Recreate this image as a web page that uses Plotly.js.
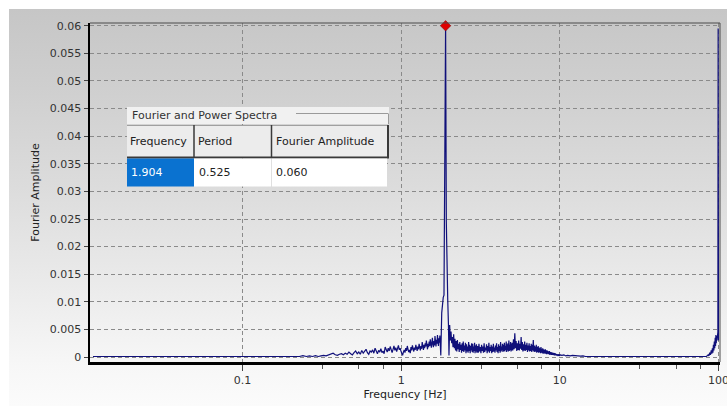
<!DOCTYPE html>
<html>
<head>
<meta charset="utf-8">
<script src="https://cdn.plot.ly/plotly-3.0.1.min.js"></script>
<style>
  html, body { margin: 0; padding: 0; background: #ffffff; }
  #wrap { position: relative; width: 727px; height: 406px; overflow: hidden; }
  #bg { position: absolute; left: 9px; top: 9px; width: 718px; height: 397px;
        background: linear-gradient(to bottom, #c6c6c6 0%, #cfcfcf 20%, #dcdcdc 45%, #ebebeb 70%, #f7f7f7 90%, #fbfbfb 100%); }
  #chart { position: absolute; left: 0; top: 0; width: 727px; height: 406px; }
</style>
</head>
<body>
<div id="wrap"><div id="bg"></div><div id="chart"></div></div>
<script>
// ---------------- data ----------------
const freqLow = [0.0114, 0.024, 0.048, 0.072, 0.096, 0.12, 0.144, 0.168, 0.192, 0.216,
  0.228, 0.24, 0.252, 0.264, 0.276, 0.288, 0.30, 0.312, 0.324, 0.336,
  0.348, 0.36, 0.372, 0.384, 0.396, 0.408, 0.42, 0.432, 0.444, 0.456,
  0.468, 0.48, 0.492, 0.504, 0.516, 0.528, 0.54, 0.552, 0.564, 0.576,
  0.588, 0.60, 0.612, 0.624, 0.636, 0.648, 0.66, 0.672, 0.684, 0.696,
  0.708, 0.72, 0.732, 0.744, 0.756, 0.768, 0.78, 0.792, 0.804, 0.816,
  0.828, 0.84, 0.852, 0.864, 0.876, 0.888, 0.90, 0.912, 0.924, 0.936,
  0.948, 0.96, 0.972, 0.984, 0.996];
const ampLow = [0.0001, 0.0001, 0.0001, 0.0001, 0.0001, 0.0001, 0.0001, 0.00012, 0.00015, 0.0002,
  0.0001, 0.00025, 0.0001, 0.0002, 0.0001, 0.00025, 0.0001, 0.0002, 0.0003, 0.0002,
  0.0004, 0.0005, 0.0007, 0.0004, 0.0003, 0.0005, 0.0006, 0.0004, 0.0007, 0.0005,
  0.0009, 0.0006, 0.0004, 0.0008, 0.0011, 0.0006, 0.0009, 0.0005, 0.0012, 0.0007,
  0.0010, 0.0014, 0.0008, 0.0005, 0.0011, 0.0009, 0.0013, 0.0007, 0.0016, 0.0010,
  0.0006, 0.0012, 0.0009, 0.0015, 0.0008, 0.0011, 0.0006, 0.0018, 0.0012, 0.0009,
  0.0016, 0.0011, 0.0019, 0.0013, 0.0008, 0.0014, 0.0020, 0.0012, 0.0017, 0.0010,
  0.0015, 0.0021, 0.0013, 0.0016, 0.0011];

const freqMid = [1.008, 1.02, 1.032, 1.044, 1.056, 1.068, 1.08, 1.092, 1.104, 1.116,
  1.128, 1.14, 1.152, 1.164, 1.176, 1.188, 1.20, 1.212, 1.224, 1.236,
  1.248, 1.26, 1.272, 1.284, 1.296, 1.308, 1.32, 1.332, 1.344, 1.356,
  1.368, 1.38, 1.392, 1.404, 1.416, 1.428, 1.44, 1.452, 1.464, 1.476,
  1.488, 1.50, 1.512, 1.524, 1.536, 1.548, 1.56, 1.572, 1.584, 1.596,
  1.608, 1.62, 1.632, 1.644, 1.656, 1.668, 1.68, 1.692, 1.704, 1.716,
  1.728, 1.74, 1.752, 1.764];
const ampMid = [0.0005, 0.0003, 0.0009, 0.0013, 0.0008, 0.0016, 0.0011, 0.0020, 0.0014, 0.0009,
  0.0013, 0.0007, 0.0018, 0.0012, 0.0021, 0.0015, 0.0010, 0.0017, 0.0013, 0.0022,
  0.0016, 0.0011, 0.0019, 0.0014, 0.0024, 0.0017, 0.0012, 0.0020, 0.0015, 0.0027,
  0.0018, 0.0013, 0.0022, 0.0016, 0.0025, 0.0019, 0.0030, 0.0021, 0.0014, 0.0024,
  0.0018, 0.0028, 0.0020, 0.0032, 0.0022, 0.0017, 0.0026, 0.0035, 0.0023, 0.0018,
  0.0029, 0.0021, 0.0038, 0.0025, 0.0019, 0.0031, 0.0024, 0.0040, 0.0027, 0.0020,
  0.0034, 0.0026, 0.0039, 0.0029];

const freqPeak = [1.776, 1.80, 1.82, 1.84, 1.86, 1.884, 1.904, 1.924, 1.944, 1.964, 1.984, 2.0];
const ampPeak  = [0.0003, 0.0080, 0.0100, 0.0108, 0.0112, 0.0298, 0.0600, 0.0245, 0.0110, 0.0104, 0.0060, 0.0003];

const freqBand1 = [2.02, 2.04, 2.06, 2.08, 2.10, 2.12, 2.14, 2.16, 2.18, 2.20,
  2.22, 2.24, 2.26, 2.28, 2.30, 2.32, 2.34, 2.36, 2.38, 2.40,
  2.42, 2.44, 2.46, 2.48, 2.50, 2.52, 2.54, 2.56, 2.58, 2.60,
  2.62, 2.64, 2.66, 2.68, 2.70, 2.72, 2.74, 2.76, 2.78, 2.80,
  2.82, 2.84, 2.86, 2.88, 2.90, 2.92, 2.94, 2.96, 2.98, 3.00];
const ampBand1 = [0.0058, 0.0030, 0.0046, 0.0025, 0.0036, 0.0018, 0.0041, 0.0016, 0.0033, 0.0012,
  0.0029, 0.0010, 0.0031, 0.0014, 0.0024, 0.0009, 0.0027, 0.0013, 0.0022, 0.0008,
  0.0025, 0.0011, 0.0028, 0.0009, 0.0021, 0.0012, 0.0026, 0.0007, 0.0023, 0.0010,
  0.0019, 0.0008, 0.0027, 0.0011, 0.0022, 0.0007, 0.0020, 0.0012, 0.0025, 0.0009,
  0.0024, 0.0008, 0.0019, 0.0011, 0.0026, 0.0007, 0.0021, 0.0010, 0.0023, 0.0008];

const freqBand2 = [3.03, 3.06, 3.09, 3.12, 3.15, 3.18, 3.21, 3.24, 3.27, 3.30,
  3.33, 3.36, 3.39, 3.42, 3.45, 3.48, 3.51, 3.54, 3.57, 3.60,
  3.63, 3.66, 3.69, 3.72, 3.75, 3.78, 3.81, 3.84, 3.87, 3.90,
  3.93, 3.96, 3.99, 4.02, 4.05, 4.08, 4.11, 4.14, 4.17, 4.20,
  4.23, 4.26, 4.29, 4.32, 4.35, 4.38, 4.41, 4.44, 4.47, 4.50,
  4.53, 4.56, 4.59, 4.62, 4.65, 4.68, 4.71, 4.74, 4.77, 4.80,
  4.83, 4.86, 4.89, 4.92, 4.95, 4.98];
const ampBand2 = [0.0020, 0.0008, 0.0024, 0.0010, 0.0018, 0.0007, 0.0022, 0.0011, 0.0019, 0.0008,
  0.0025, 0.0009, 0.0017, 0.0012, 0.0023, 0.0007, 0.0020, 0.0010, 0.0026, 0.0008,
  0.0018, 0.0011, 0.0022, 0.0007, 0.0019, 0.0009, 0.0024, 0.0010, 0.0017, 0.0008,
  0.0021, 0.0012, 0.0025, 0.0009, 0.0018, 0.0007, 0.0023, 0.0011, 0.0020, 0.0008,
  0.0027, 0.0010, 0.0019, 0.0012, 0.0024, 0.0009, 0.0022, 0.0011, 0.0026, 0.0010,
  0.0020, 0.0013, 0.0028, 0.0009, 0.0023, 0.0012, 0.0025, 0.0010, 0.0030, 0.0011,
  0.0022, 0.0013, 0.0027, 0.0010, 0.0024, 0.0012];

const freqBand3 = [5.00, 5.05, 5.10, 5.15, 5.20, 5.25, 5.30, 5.35, 5.40, 5.45,
  5.50, 5.55, 5.60, 5.65, 5.70, 5.75, 5.80, 5.85, 5.90, 5.95,
  6.00, 6.05, 6.10, 6.15, 6.20, 6.25, 6.30, 6.35, 6.40, 6.45,
  6.50, 6.55, 6.60, 6.65, 6.70, 6.75, 6.80, 6.85, 6.90, 6.95,
  7.00, 7.05, 7.10, 7.15, 7.20, 7.25, 7.30, 7.35, 7.40, 7.45,
  7.50, 7.55, 7.60, 7.65, 7.70, 7.75, 7.80, 7.85, 7.90, 7.95,
  8.00, 8.05, 8.10, 8.15, 8.20, 8.25, 8.30, 8.35, 8.40, 8.45,
  8.50, 8.55, 8.60, 8.65, 8.70, 8.75, 8.80, 8.85, 8.90, 8.95,
  9.00, 9.05, 9.10, 9.15, 9.20, 9.25, 9.30, 9.35, 9.40, 9.45,
  9.50, 9.55, 9.60, 9.65, 9.70, 9.75, 9.80, 9.85, 9.90, 9.95,
  10.0];
const ampBand3 = [0.0026, 0.0012, 0.0032, 0.0014, 0.0043, 0.0016, 0.0029, 0.0011, 0.0025, 0.0013,
  0.0030, 0.0012, 0.0024, 0.0015, 0.0036, 0.0013, 0.0027, 0.0010, 0.0023, 0.0012,
  0.0028, 0.0011, 0.0022, 0.0013, 0.0026, 0.0009, 0.0021, 0.0012, 0.0025, 0.0010,
  0.0020, 0.0011, 0.0024, 0.0009, 0.0022, 0.0012, 0.0031, 0.0010, 0.0021, 0.0009,
  0.0019, 0.0010, 0.0022, 0.0008, 0.0018, 0.0009, 0.0020, 0.0008, 0.0017, 0.0009,
  0.0016, 0.0007, 0.0018, 0.0008, 0.0015, 0.0007, 0.0016, 0.0006, 0.0014, 0.0007,
  0.0013, 0.0006, 0.0014, 0.0006, 0.0012, 0.0005, 0.0012, 0.0006, 0.0011, 0.0005,
  0.0010, 0.0005, 0.0011, 0.0004, 0.0009, 0.0005, 0.0009, 0.0004, 0.0008, 0.0004,
  0.0008, 0.0004, 0.0007, 0.0004, 0.0007, 0.0003, 0.0007, 0.0003, 0.0006, 0.0003,
  0.0006, 0.0003, 0.0005, 0.0003, 0.0005, 0.0002, 0.0005, 0.0003, 0.0004, 0.0002,
  0.0004];

const freqTail = [10.3, 10.6, 10.9, 11.2, 11.6, 12.0, 12.5, 13.0, 13.5, 14.0, 14.5, 15.0, 16, 20, 30, 40, 50, 60, 70, 80, 84];
const ampTail  = [0.0003, 0.0004, 0.0002, 0.0003, 0.0002, 0.0003, 0.0002, 0.0002, 0.00015, 0.0002, 0.0001, 0.00012, 0.0001, 0.0001, 0.0001, 0.0001, 0.0001, 0.0001, 0.0001, 0.0001, 0.00012];

const freqEnd = [86, 87, 88, 89, 90, 90.8, 91.5, 92.2, 92.9, 93.5, 94.1, 94.7, 95.3, 95.8, 96.3, 96.8, 97.3, 97.8, 98.3, 98.7, 99.1, 99.5, 99.8, 100];
const ampEnd  = [0.0004, 0.0002, 0.0008, 0.0004, 0.0012, 0.0006, 0.0016, 0.0008, 0.0022, 0.0012, 0.0028, 0.0016, 0.0035, 0.0020, 0.0040, 0.0025, 0.0038, 0.0030, 0.0042, 0.0032, 0.0045, 0.0595, 0.0040, 0.0030];

// selected peak (shown in the table)
const selFreq = [1.904];
const selAmp = [0.060];
const tableTitle = "Fourier and Power Spectra";
const tableHeaders = ["Frequency", "Period", "Fourier Amplitude"];
const tableValues = ["1.904", "0.525", "0.060"];

const xTickVals = [0.1, 1, 10, 100];
const xTickText = ["0.1", "1", "10", "100"];
const xMinorVals = [0.32, 0.54, 0.77, 3.2, 5.4, 7.7, 32, 54, 77];

// ---------------- build ----------------
const freq = [].concat(freqLow, freqMid, freqPeak, freqBand1, freqBand2, freqBand3, freqTail, freqEnd);
const amp  = [].concat(ampLow, ampMid, ampPeak, ampBand1, ampBand2, ampBand3, ampTail, ampEnd);

const W = 727, H = 406;
const L = 90, R = 7, T = 23, B = 44;
const PW = W - L - R, PH = H - T - B;
const px = v => (v - L) / PW;
const py = v => (H - B - v) / PH;

const FONT = "DejaVu Sans, Verdana, sans-serif";

const shapes = [];
const annotations = [];
function rect(x0, y0, x1, y1, fill, lineColor, lw) {
  shapes.push({type: 'rect', xref: 'paper', yref: 'paper', x0: px(x0), x1: px(x1), y0: py(y1), y1: py(y0),
    fillcolor: fill, line: {color: lineColor || 'rgba(0,0,0,0)', width: lw || 0}, layer: 'above'});
}
function line(x0, y0, x1, y1, color, lw) {
  shapes.push({type: 'line', xref: 'paper', yref: 'paper', x0: px(x0), x1: px(x1), y0: py(y0), y1: py(y1),
    line: {color: color, width: lw}, layer: 'above'});
}
function text(x, y, s, color, size) {
  annotations.push({xref: 'paper', yref: 'paper', x: px(x), y: py(y), text: s, showarrow: false,
    xanchor: 'left', yanchor: 'middle', font: {family: FONT, size: size || 11, color: color || '#222'}});
}

// frame: top & right thin lines
shapes.push({type: 'line', xref: 'paper', yref: 'paper', x0: 0, x1: 1, y0: 1, y1: 1, line: {color: '#4a4a4a', width: 1}});
shapes.push({type: 'line', xref: 'paper', yref: 'paper', x0: 1, x1: 1, y0: 0, y1: 1, line: {color: '#4a4a4a', width: 1}});

// table widget
rect(127, 107, 389, 124, '#f1f1f1');
line(296, 113.5, 388, 113.5, '#9a9a9a', 1);
line(388.5, 113.5, 388.5, 124, '#9a9a9a', 1);
rect(127, 125, 389, 158, '#ececec');
line(127, 125.5, 389, 125.5, '#a0a0a0', 1);
line(127, 157.5, 389, 157.5, '#3a3a3a', 2);
line(388, 125, 388, 158, '#3a3a3a', 2);
line(194, 125, 194, 158, '#3a3a3a', 1.5);
line(271.5, 125, 271.5, 158, '#3a3a3a', 1.5);
rect(127, 158.5, 194, 186.5, '#0a72d0');
rect(194, 158.5, 271, 186.5, '#ffffff');
rect(272, 158.5, 387, 186.5, '#ffffff');
line(271.5, 158.5, 271.5, 186.5, '#e0e0e0', 1);

text(130, 115.5, tableTitle, '#333', 11);
text(128, 141.5, tableHeaders[0], '#222', 11);
text(196, 141.5, tableHeaders[1], '#222', 11);
text(274, 141.5, tableHeaders[2], '#222', 11);
text(129, 172, tableValues[0], '#ffffff', 11);
text(197, 172, tableValues[1], '#222', 11);
text(274, 172, tableValues[2], '#222', 11);

const traces = [
  {x: freq, y: amp, type: 'scatter', mode: 'lines', line: {color: '#10107a', width: 1.2}, hoverinfo: 'skip'},
  {x: selFreq, y: selAmp, type: 'scatter', mode: 'markers', cliponaxis: false,
   marker: {symbol: 'diamond', size: 8, color: '#e00000', line: {color: '#7a0000', width: 0.5}}, hoverinfo: 'skip'}
];

const layout = {
  width: W, height: H,
  margin: {l: L, r: R, t: T, b: B, pad: 0},
  paper_bgcolor: 'rgba(0,0,0,0)',
  plot_bgcolor: 'rgba(0,0,0,0)',
  showlegend: false,
  font: {family: FONT, size: 11, color: '#333'},
  xaxis: {
    type: 'log', range: [-1.962, 2.0095],
    tickmode: 'array', tickvals: xTickVals, ticktext: xTickText,
    ticklabeloverflow: 'allow',
    ticks: 'outside', ticklen: 6, tickcolor: '#444', tickwidth: 1,
    tickfont: {family: FONT, size: 11, color: '#333'},
    showline: true, linecolor: '#000', linewidth: 2.5, mirror: false,
    showgrid: true, gridcolor: '#8a8a8a', gridwidth: 1, griddash: '4px,3px',
    zeroline: false,
    minor: {tickmode: 'array', tickvals: xMinorVals, ticks: 'outside', ticklen: 4, tickcolor: '#555', showgrid: false},
    title: {text: 'Frequency [Hz]', font: {family: FONT, size: 11, color: '#222'}, standoff: 5}
  },
  yaxis: {
    range: [-0.0009, 0.0605],
    tickmode: 'linear', tick0: 0, dtick: 0.005,
    ticks: 'outside', ticklen: 4, tickcolor: '#444', tickwidth: 1,
    tickfont: {family: FONT, size: 11, color: '#333'},
    showline: true, linecolor: '#000', linewidth: 2.5, mirror: false,
    showgrid: true, gridcolor: '#8a8a8a', gridwidth: 1, griddash: '4px,3px',
    zeroline: false,
    title: {text: 'Fourier Amplitude', font: {family: FONT, size: 11, color: '#222'}, standoff: 8}
  },
  shapes: shapes,
  annotations: annotations
};

Plotly.newPlot('chart', traces, layout, {displayModeBar: false, staticPlot: true});
</script>
</body>
</html>
